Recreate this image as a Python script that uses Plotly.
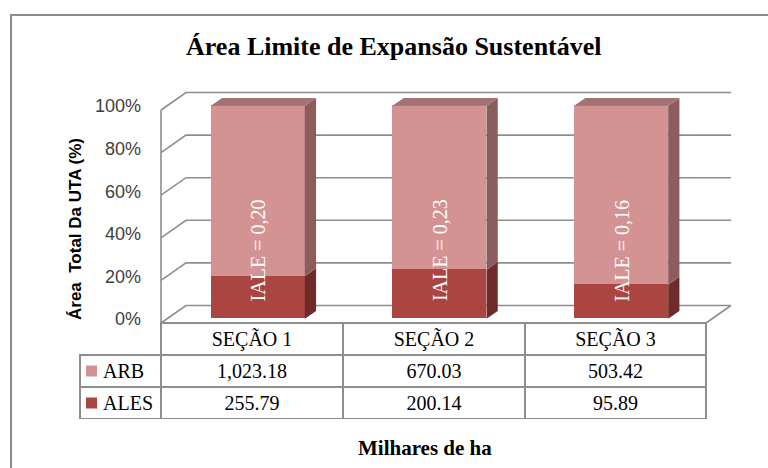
import plotly.graph_objects as go

# ---- data -------------------------------------------------------------
categories = ["SEÇÃO 1", "SEÇÃO 2", "SEÇÃO 3"]
arb = [1023.18, 670.03, 503.42]      # milhares de ha
ales = [255.79, 200.14, 95.89]       # milhares de ha
series_names = ["ARB", "ALES"]
y_ticks = [0, 20, 40, 60, 80, 100]
y_ticktext = ["0%", "20%", "40%", "60%", "80%", "100%"]

# ---- derived shares (100% stacked) -----------------------------------
totals = [a + b for a, b in zip(arb, ales)]
ales_pct = [b / t * 100 for b, t in zip(ales, totals)]
arb_pct = [a / t * 100 for a, t in zip(arb, totals)]
iale = [b / t for b, t in zip(ales, totals)]
iale_text = ["IALE = " + f"{v:.2f}".replace(".", ",") for v in iale]

# ---- styling ---------------------------------------------------------
W, H = 768, 468
ARB_FRONT, ARB_SIDE, ARB_TOP = "#D39393", "#8B5D5D", "#A37272"
ALES_FRONT, ALES_SIDE = "#AB4542", "#6E2B29"
GRID = "#8E8E8E"
SERIF = "Liberation Serif"
SANS = "Liberation Sans"

# pixel anchors of the front plane of the 3-D box
FX0, FX1 = 161, 706      # x = -0.5 and x = 2.5
FY0, FY1 = 323, 110      # y = 0 and y = 100
SX = (FX1 - FX0) / 3.0
SY = (FY0 - FY1) / 100.0

# depth of the box in data units (towards the back wall)
DX = 25 / SX
DY = 17.5 / SY
BAR_D0, BAR_D1 = 0.24, 0.69   # bar front / back as fractions of depth
BAR_W = 94 / SX

xr = [-0.56, 2.70]
yr = [-3, 112]
xdom = [(FX0 + (xr[0] + 0.5) * SX) / W, (FX0 + (xr[1] + 0.5) * SX) / W]
ydom = [1 - (FY0 - yr[0] * SY) / H, 1 - (FY0 - yr[1] * SY) / H]

# bar front plane offsets
bx = BAR_D0 * DX
by = BAR_D0 * DY
sdx = (BAR_D1 - BAR_D0) * DX
sdy = (BAR_D1 - BAR_D0) * DY
centers = [i + bx for i in range(len(categories))]

fig = go.Figure()

# front faces
fig.add_trace(go.Bar(x=centers, y=ales_pct, base=[by] * 3, width=BAR_W,
                     marker=dict(color=ALES_FRONT, line=dict(width=0)),
                     name="ALES", showlegend=False))
fig.add_trace(go.Bar(x=centers, y=arb_pct, base=[by + p for p in ales_pct], width=BAR_W,
                     marker=dict(color=ARB_FRONT, line=dict(width=0)),
                     name="ARB", showlegend=False))


def side_poly(lo, hi):
    xs, ys = [], []
    for c, a, b in zip(centers, lo, hi):
        r = c + BAR_W / 2
        xs += [r, r + sdx, r + sdx, r, r, None]
        ys += [a, a + sdy, b + sdy, b, a, None]
    return xs, ys


xs, ys = side_poly([by] * 3, [by + p for p in ales_pct])
fig.add_trace(go.Scatter(x=xs, y=ys, fill="toself", fillcolor=ALES_SIDE, mode="lines",
                         line=dict(width=0, color=ALES_SIDE), showlegend=False, hoverinfo="skip"))
xs, ys = side_poly([by + p for p in ales_pct], [by + 100] * 3)
fig.add_trace(go.Scatter(x=xs, y=ys, fill="toself", fillcolor=ARB_SIDE, mode="lines",
                         line=dict(width=0, color=ARB_SIDE), showlegend=False, hoverinfo="skip"))

# top faces
tx, ty = [], []
for c in centers:
    l, r = c - BAR_W / 2, c + BAR_W / 2
    t = by + 100
    tx += [l, l + sdx, r + sdx, r, l, None]
    ty += [t, t + sdy, t + sdy, t, t, None]
fig.add_trace(go.Scatter(x=tx, y=ty, fill="toself", fillcolor=ARB_TOP, mode="lines",
                         line=dict(width=0, color=ARB_TOP), showlegend=False, hoverinfo="skip"))

# walls: side-wall diagonals + back-wall gridlines
shapes = []
for v in y_ticks:
    shapes.append(dict(type="path", xref="x", yref="y", layer="below",
                       path=f"M {-0.5},{v} L {-0.5 + DX},{v + DY} L {2.5 + DX},{v + DY}",
                       line=dict(color=GRID, width=1.6)))
# vertical axis edge, floor front and right edge
shapes.append(dict(type="line", xref="x", yref="y", x0=-0.5, x1=-0.5, y0=0, y1=100,
                   line=dict(color=GRID, width=1.6), layer="below"))
shapes.append(dict(type="line", xref="x", yref="y", x0=-0.5, x1=2.5, y0=0, y1=0,
                   line=dict(color=GRID, width=1.6), layer="below"))
shapes.append(dict(type="line", xref="x", yref="y", x0=2.5, x1=2.5 + DX, y0=0, y1=DY,
                   line=dict(color=GRID, width=1.6), layer="below"))
# chart frame
shapes.append(dict(type="rect", xref="paper", yref="paper", x0=11 / W, x1=1.01,
                   y0=-0.01, y1=1 - 15 / H, line=dict(color="#8C8C8C", width=2)))

# data table geometry (pixels)
T_LEFT, T_RIGHT = 80, 706
T_TOP, HEAD_H, ROW_H = 323, 32, 32
T_BOTTOM = T_TOP + HEAD_H + ROW_H * len(series_names)

# legend keys inside the first table column
key_colors = [ARB_FRONT, ALES_FRONT]
for i, col in enumerate(key_colors):
    cy = T_TOP + HEAD_H + ROW_H * i + ROW_H / 2
    shapes.append(dict(type="rect", xref="paper", yref="paper",
                       x0=(T_LEFT + 6) / W, x1=(T_LEFT + 17) / W,
                       y0=1 - (cy + 5.5) / H, y1=1 - (cy - 5.5) / H,
                       fillcolor=col, line=dict(width=0), layer="above"))

annotations = []
for c, t in zip(centers, iale_text):
    annotations.append(dict(x=c, y=34, xref="x", yref="y", text=t, textangle=-90,
                            xanchor="center", yanchor="middle",
                            showarrow=False, font=dict(family=SERIF, size=20, color="white")))
annotations.append(dict(x=394 / W, y=1 - 47 / H, xref="paper", yref="paper",
                        xanchor="center", yanchor="middle",
                        text="<b>Área Limite de Expansão Sustentável</b>", showarrow=False,
                        font=dict(family=SERIF, size=26, color="black")))
annotations.append(dict(x=75 / W, y=1 - 229 / H, xref="paper", yref="paper",
                        xanchor="center", yanchor="middle",
                        text="<b>Área  Total Da UTA (%)</b>", textangle=-90, showarrow=False,
                        font=dict(family=SANS, size=17, color="black")))
annotations.append(dict(x=425 / W, y=1 - 448 / H, xref="paper", yref="paper",
                        xanchor="center", yanchor="middle",
                        text="<b>Milhares de ha</b>", showarrow=False,
                        font=dict(family=SERIF, size=21, color="black")))

# data table under the chart
legend_cells = ["\u00a0\u00a0\u00a0" + n for n in series_names]
col_vals = [legend_cells] + [[f"{a:,.2f}", f"{b:,.2f}"] for a, b in zip(arb, ales)]
fig.add_trace(go.Table(
    domain=dict(x=[T_LEFT / W, T_RIGHT / W], y=[1 - T_BOTTOM / H, 1 - T_TOP / H]),
    columnwidth=[81, 182, 182, 181],
    header=dict(values=[""] + categories, height=HEAD_H,
                line=dict(color=["rgba(0,0,0,0)", GRID, GRID, GRID], width=1.6),
                fill=dict(color="rgba(0,0,0,0)"), align="center",
                font=dict(family=SERIF, size=20, color="black")),
    cells=dict(values=col_vals, height=ROW_H,
               line=dict(color=GRID, width=1.6), fill=dict(color="white"),
               align=["left", "center", "center", "center"],
               font=dict(family=SERIF, size=20, color="black")),
))

fig.update_layout(
    width=W, height=H, margin=dict(l=0, r=0, t=0, b=0),
    paper_bgcolor="white", plot_bgcolor="rgba(0,0,0,0)",
    barmode="overlay", bargap=0, showlegend=False,
    shapes=shapes, annotations=annotations,
    xaxis=dict(domain=xdom, range=xr, visible=False, fixedrange=True),
    yaxis=dict(domain=ydom, range=yr, tickvals=y_ticks, ticktext=y_ticktext,
               showgrid=False, zeroline=False, showline=False, ticks="",
               ticklabelstandoff=8, ticklabelshift=-4, automargin=False,
               tickfont=dict(family=SANS, size=18, color="#404040")),
)

fig.write_html("out.html")
